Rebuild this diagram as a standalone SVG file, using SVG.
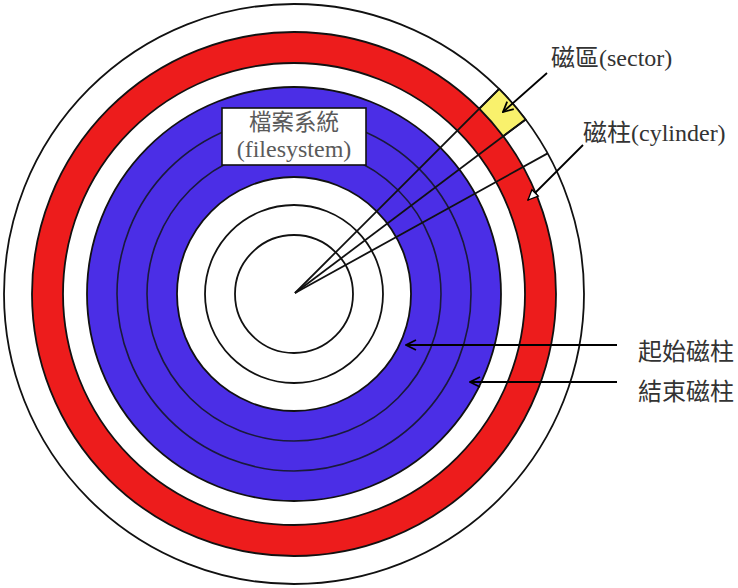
<svg xmlns="http://www.w3.org/2000/svg" width="738" height="588" viewBox="0 0 738 588">
  <style>
    .edge { stroke: #111; stroke-width: 1.8; }
    .ring { stroke: #111; stroke-width: 1.8; }
    .thin { fill: none; stroke: #1a1a3a; stroke-width: 1.6; }
    .lbl { font-family: "Liberation Serif", "Noto Sans CJK TC", serif; font-size: 24px; fill: #333; }
    .boxlbl { font-family: "Liberation Serif", "Noto Sans CJK TC", serif; font-size: 24px; fill: #5a5a5a; text-anchor: middle; }
    .conn { fill: none; stroke: #000; stroke-width: 1.8; }
  </style>
  <defs>
    <marker id="open" viewBox="0 0 12 12" refX="11" refY="6" markerWidth="12" markerHeight="12" markerUnits="userSpaceOnUse" orient="auto">
      <path d="M1,1 L11,6 L1,11" fill="none" stroke="#000" stroke-width="1.8"/>
    </marker>
    <marker id="hollow" viewBox="0 0 12 12" refX="11" refY="6" markerWidth="12" markerHeight="12" markerUnits="userSpaceOnUse" orient="auto">
      <path d="M1,1.5 L11,6 L1,10.5 Z" fill="#fff" stroke="#000" stroke-width="1.3"/>
    </marker>
  </defs>
  <rect width="738" height="588" fill="#fff"/>

  <g id="disk">
    <circle cx="294" cy="294" r="290" fill="#fff" class="ring"/>
    <circle cx="294" cy="294" r="262" fill="#ED1C1C" class="ring"/>
    <circle cx="294" cy="294" r="231" fill="#fff" class="ring"/>
    <circle cx="294" cy="294" r="207" fill="#4B2EE6" class="ring"/>
    <circle cx="294" cy="294" r="177" class="thin"/>
    <circle cx="294" cy="294" r="147" class="thin"/>
    <circle cx="294" cy="294" r="117" fill="#fff" class="ring"/>
    <circle cx="294" cy="294" r="89" fill="none" class="ring"/>
    <circle cx="294" cy="294" r="59" fill="none" class="ring"/>
  </g>

  <g id="sector">
    <path d="M479.3,108.7 L499.1,88.9 A290,290 0 0,1 525.6,119.5 L503.2,136.3 A262,262 0 0,0 479.3,108.7 Z" fill="#F9F16C" stroke="#111" stroke-width="1.8"/>
  </g>

  <g id="radials">
    <line x1="295" y1="293" x2="499.1" y2="88.9" class="edge"/>
    <line x1="295" y1="293" x2="525.6" y2="119.5" class="edge"/>
    <line x1="295" y1="293" x2="547.6" y2="153.4" class="edge"/>
  </g>

  <g id="filesystem">
    <rect x="222" y="108" width="144" height="57" fill="#fff" stroke="#111" stroke-width="1.6"/>
    <text x="294" y="130" class="boxlbl" style="font-size:22.5px">檔案系統</text>
    <text x="294" y="157" class="boxlbl">(filesystem)</text>
  </g>

  <g id="connectors">
    <line x1="547" y1="73" x2="503" y2="112" class="conn" marker-end="url(#open)"/>
    <line x1="583" y1="145" x2="528" y2="200" class="conn" marker-end="url(#hollow)"/>
    <line x1="617" y1="345" x2="406" y2="345" class="conn" marker-end="url(#open)"/>
    <line x1="617" y1="382" x2="470" y2="382" class="conn" marker-end="url(#open)"/>
  </g>

  <g id="label-sector"><text x="551" y="66" class="lbl">磁區(sector)</text></g>
  <g id="label-cylinder"><text x="583" y="141" class="lbl">磁柱(cylinder)</text></g>
  <g id="label-start"><text x="638" y="360" class="lbl">起始磁柱</text></g>
  <g id="label-end"><text x="638" y="400" class="lbl">結束磁柱</text></g>
</svg>
